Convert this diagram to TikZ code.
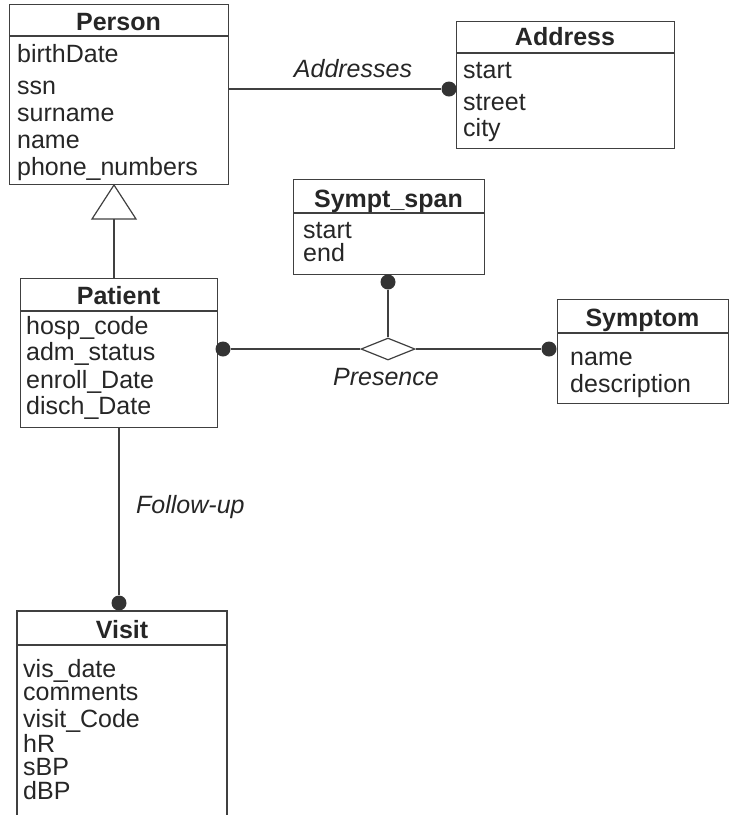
\documentclass[tikz,border=0pt]{standalone}
\usepackage{fontspec}
\setmainfont{Liberation Sans}
\usetikzlibrary{shapes.geometric}
\begin{document}
\begin{tikzpicture}[x=1pt,y=-1pt,
  umlline/.style={draw=black!75, line width=1.2pt},
  box/.style={umlline, rectangle, inner sep=0pt, anchor=north west},
  ttl/.style={font=\fontsize{25}{27}\selectfont\bfseries, text=black!85, anchor=base, inner sep=0pt},
  attr/.style={font=\fontsize{25}{27}\selectfont, text=black!85, anchor=base west, inner sep=0pt},
  role/.style={font=\fontsize{25}{27}\selectfont\itshape, text=black!85, anchor=base, inner sep=0pt},
  dot/.style={circle, fill=black!80, inner sep=0pt, minimum size=15pt},
]
\useasboundingbox (0,0) rectangle (735,815);

% Person
\node[box, minimum width=219pt, minimum height=180pt] (person) at (9,4) {};
\draw[umlline] (9,36) -- (228,36);
\node[ttl] (personT) at (118.5,30) {Person};
\node[attr] (p1) at (17,62) {birthDate};
\node[attr] (p2) at (17,94) {ssn};
\node[attr] (p3) at (17,121) {surname};
\node[attr] (p4) at (17,148) {name};
\node[attr] (p5) at (17,175) {phone\_numbers};

% Address
\node[box, minimum width=218pt, minimum height=127pt] (address) at (456,21) {};
\draw[umlline] (456,53) -- (674,53);
\node[ttl] (addressT) at (565,45) {Address};
\node[attr] (a1) at (463,78) {start};
\node[attr] (a2) at (463,110) {street};
\node[attr] (a3) at (463,136) {city};

% Sympt_span
\node[box, minimum width=191pt, minimum height=95pt] (span) at (293,179) {};
\draw[umlline] (293,213) -- (484,213);
\node[ttl] (spanT) at (388.5,207) {Sympt\_span};
\node[attr] (s1) at (303,238) {start};
\node[attr] (s2) at (303,261) {end};

% Patient
\node[box, minimum width=197pt, minimum height=149pt] (patient) at (20,278) {};
\draw[umlline] (20,311) -- (217,311);
\node[ttl] (patientT) at (118.5,304) {Patient};
\node[attr] (pa1) at (26,334) {hosp\_code};
\node[attr] (pa2) at (26,360) {adm\_status};
\node[attr] (pa3) at (26,388) {enroll\_Date};
\node[attr] (pa4) at (26,414) {disch\_Date};

% Symptom
\node[box, minimum width=171pt, minimum height=104pt] (symptom) at (557,299) {};
\draw[umlline] (557,333) -- (728,333);
\node[ttl] (symptomT) at (642.5,326) {Symptom};
\node[attr] (sy1) at (570,365) {name};
\node[attr] (sy2) at (570,392) {description};

% Visit (open at the bottom)
\node[inner sep=0pt, minimum width=210pt, minimum height=34pt, anchor=north west] (visit) at (17,611) {};
\draw[umlline] (17,830) -- (17,611) -- (227,611) -- (227,830);
\draw[umlline] (17,645) -- (227,645);
\node[ttl] (visitT) at (122,638) {Visit};
\node[attr] (v1) at (23,677) {vis\_date};
\node[attr] (v2) at (23,700) {comments};
\node[attr] (v3) at (23,727) {visit\_Code};
\node[attr] (v4) at (23,752) {hR};
\node[attr] (v5) at (23,775) {sBP};
\node[attr] (v6) at (23,799) {dBP};

% association ends
\node[dot] (addrDot) at (449,89) {};
\node[dot] (spanDot) at (388,282) {};
\node[dot] (patDot) at (223,349) {};
\node[dot] (symDot) at (549,349) {};
\node[dot] (visDot) at (119,603) {};

% Presence relationship
\node[diamond, umlline, fill=white, inner sep=0pt, minimum width=54pt, minimum height=22pt] (presence) at (388,349) {};

% connectors
\draw[umlline] (person.east |- addrDot) -- (addrDot);
\draw[umlline] (spanDot) -- (presence.north);
\draw[umlline] (patDot) -- (presence.west);
\draw[umlline] (presence.east) -- (symDot);
\draw[umlline] (patient.south -| visDot) -- (visDot);

% generalisation Patient -> Person
\coordinate (genBase) at (114,219);
\draw[umlline, line join=miter] (114,185) -- (92,219) -- (136,219) -- cycle;
\draw[umlline] (genBase) -- (patient.north -| genBase);

% role labels
\node[role] (addrLbl) at (353,77) {Addresses};
\node[role] (presLbl) at (386,385) {Presence};
\node[role, anchor=base west] (follLbl) at (136,513) {Follow-up};

\end{tikzpicture}
\end{document}
